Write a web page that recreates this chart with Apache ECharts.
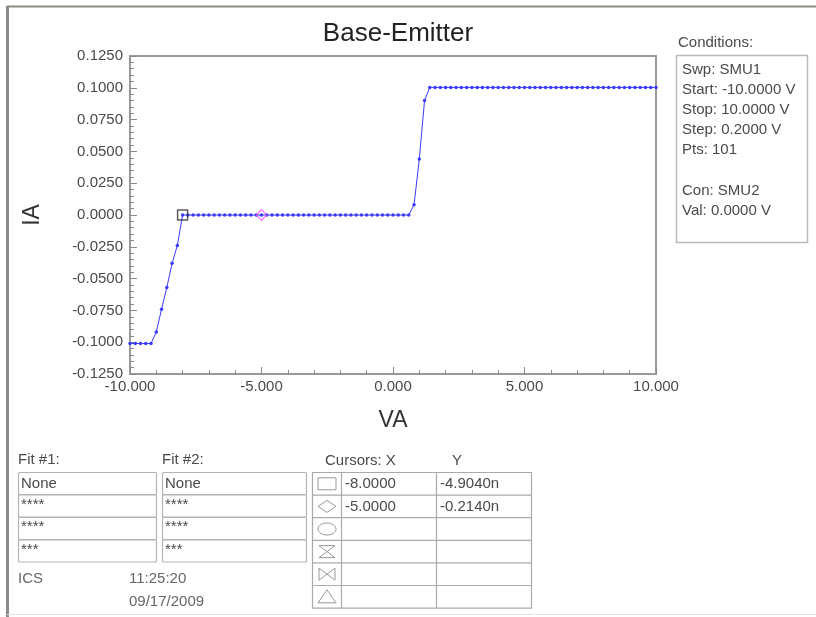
<!DOCTYPE html>
<html><head><meta charset="utf-8">
<script src="https://cdn.jsdelivr.net/npm/echarts@6/dist/echarts.min.js"></script>
<style>html,body{margin:0;padding:0;background:#fff}#c{width:816px;height:617px}</style>
</head><body><div id="c"></div>
<script>
// ---- data ----
const sweepStart = -10, sweepStep = 0.2;   // 101 points, -10 V .. 10 V
const iaLow = [-0.1010,-0.1010,-0.1010,-0.1010,-0.1010];           // -10.0 .. -9.2
const iaRiseLow = [-0.0920,-0.0740,-0.0570,-0.0380,-0.0240];       // -9.0 .. -8.2
const iaMid = [                                                     // -8.0 .. 0.6 (44 pts)
  0,0,0,0,0,0,0,0,0,0, 0,0,0,0,0,0,0,0,0,0,
  0,0,0,0,0,0,0,0,0,0, 0,0,0,0,0,0,0,0,0,0,
  0,0,0,0
];
const iaRiseHigh = [0.0080,0.0440,0.0900];                          // 0.8 .. 1.2
const iaHigh = [                                                    // 1.4 .. 10.0 (44 pts)
  0.1003,0.1003,0.1003,0.1003,0.1003,0.1003,0.1003,0.1003,0.1003,0.1003,
  0.1003,0.1003,0.1003,0.1003,0.1003,0.1003,0.1003,0.1003,0.1003,0.1003,
  0.1003,0.1003,0.1003,0.1003,0.1003,0.1003,0.1003,0.1003,0.1003,0.1003,
  0.1003,0.1003,0.1003,0.1003,0.1003,0.1003,0.1003,0.1003,0.1003,0.1003,
  0.1003,0.1003,0.1003,0.1003
];
const cursorX = [-8.0, -5.0];
const cursorY = [-4.904e-9, -0.214e-9];
const cursorXText = ['-8.0000', '-5.0000'];
const cursorYText = ['-4.9040n', '-0.2140n'];
const conditionLines = ['Swp: SMU1','Start: -10.0000 V','Stop: 10.0000 V','Step: 0.2000 V','Pts: 101','','Con: SMU2','Val: 0.0000 V'];
const fitRows = ['None','****','****','***'];
// ---------------

const iaValues = [].concat(iaLow, iaRiseLow, iaMid, iaRiseHigh, iaHigh);
const pts = iaValues.map((v,i)=>[+(sweepStart + i*sweepStep).toFixed(1), v]);
const F = '"Liberation Sans", Arial, sans-serif';
const TC = '#4a4a4a';
const FS = 15;
const chart = echarts.init(document.getElementById('c'), null, {renderer:'canvas'});

function txt(t, x, y, opt){
  opt = opt || {};
  return {type:'text', style:{text:t, x:x, y:y, verticalAlign:'middle', align:opt.align||'left',
    font:(opt.size||FS)+'px '+F, fill:opt.fill||TC}};
}
const g = [];
// outer frame
g.push({type:'line', shape:{x1:7,y1:6.5,x2:816,y2:6.5}, style:{stroke:'#8c8a7c', lineWidth:2}});
g.push({type:'line', shape:{x1:7.5,y1:6,x2:7.5,y2:617}, style:{stroke:'#8a8a8a', lineWidth:3}});
g.push({type:'line', shape:{x1:7,y1:614.5,x2:816,y2:614.5}, style:{stroke:'#e2e2e2', lineWidth:1}});
// conditions
g.push(txt('Conditions:', 678, 43));
g.push({type:'rect', shape:{x:676.5,y:55.5,width:131,height:187}, style:{fill:'none', stroke:'#bbb', lineWidth:1.5}});
conditionLines.forEach((t,i)=>{ if(t) g.push(txt(t, 682, 69.5+i*20.15)); });
// fit tables
function fitTable(x0, label){
  g.push(txt(label, x0, 460));
  const w = x0===18?138:144;
  for(let r=0;r<4;r++){
    const y = 472 + r*22.5;
    g.push({type:'rect', shape:{x:x0+0.5,y:y+0.5,width:w,height:22, r:1}, style:{fill:'none', stroke:'#b4b4b4', lineWidth:1.2}});
    g.push(txt(fitRows[r], x0+3, r>0 ? y+10 : y+11.5));
  }
}
fitTable(18,'Fit #1:');
fitTable(162,'Fit #2:');
g.push(txt('ICS', 18, 579, {fill:'#666'}));
g.push(txt('11:25:20', 129, 579, {fill:'#666'}));
g.push(txt('09/17/2009', 129, 602, {fill:'#666'}));
// cursors table
g.push(txt('Cursors: X', 325, 461));
g.push(txt('Y', 457, 461, {align:'center'}));
const tx0=312.5, tx1=531.5, rowH=22.6, ty0=472.5;
g.push({type:'rect', shape:{x:tx0,y:ty0,width:tx1-tx0,height:rowH*6}, style:{fill:'none', stroke:'#aaa', lineWidth:1.2}});
for(let r=1;r<6;r++) g.push({type:'line', shape:{x1:tx0,y1:ty0+r*rowH,x2:tx1,y2:ty0+r*rowH}, style:{stroke:'#aaa', lineWidth:1.2}});
g.push({type:'line', shape:{x1:341.5,y1:ty0,x2:341.5,y2:ty0+rowH*6}, style:{stroke:'#aaa', lineWidth:1.2}});
g.push({type:'line', shape:{x1:436.5,y1:ty0,x2:436.5,y2:ty0+rowH*6}, style:{stroke:'#aaa', lineWidth:1.2}});
const ic = {fill:'none', stroke:'#999', lineWidth:1};
const cx = 327, cy = r=>ty0 + r*rowH + rowH/2;
g.push({type:'rect', shape:{x:cx-9,y:cy(0)-6,width:18,height:12}, style:ic});
g.push({type:'polygon', shape:{points:[[cx-9,cy(1)],[cx,cy(1)-6],[cx+9,cy(1)],[cx,cy(1)+6]]}, style:ic});
g.push({type:'ellipse', shape:{cx:cx,cy:cy(2),rx:9,ry:6}, style:ic});
g.push({type:'polygon', shape:{points:[[cx-8,cy(3)-6],[cx+8,cy(3)-6],[cx-8,cy(3)+6],[cx+8,cy(3)+6]]}, style:ic});
g.push({type:'polygon', shape:{points:[[cx-8,cy(4)-6],[cx-8,cy(4)+6],[cx+8,cy(4)-6],[cx+8,cy(4)+6]]}, style:ic});
g.push({type:'polygon', shape:{points:[[cx,cy(5)-7],[cx+9,cy(5)+6],[cx-9,cy(5)+6]]}, style:ic});
for(let i=0;i<cursorXText.length;i++){
  g.push(txt(cursorXText[i], 345, cy(i)));
  g.push(txt(cursorYText[i], 440, cy(i)));
}

const axisCommon = {
  axisLine:{show:true, onZero:false, lineStyle:{color:'#9a9a9a', width:2}},
  axisTick:{show:true, inside:true, length:7, lineStyle:{color:'#8a8a8a', width:1}},
  minorTick:{show:true, splitNumber:5, length:4, lineStyle:{color:'#8a8a8a', width:1}},
  splitLine:{show:false},
  nameTextStyle:{fontFamily:F, fontSize:23, color:'#333'},
};
chart.setOption({
  animation:false,
  backgroundColor:'#fff',
  textStyle:{fontFamily:F},
  title:{text:'Base-Emitter', left:393, textAlign:'center', top:16, textStyle:{fontFamily:F, fontSize:26, fontWeight:'normal', color:'#222'}},
  grid:{left:130, right:160, top:56, bottom:243, show:true, borderColor:'#9a9a9a', borderWidth:2, containLabel:false},
  xAxis:Object.assign({}, axisCommon, {
    type:'value', min:-10, max:10, interval:5, name:'VA', nameLocation:'middle', nameGap:35,
    axisLabel:{formatter:v=>v.toFixed(3), fontFamily:F, fontSize:FS, color:TC, margin:5}
  }),
  yAxis:Object.assign({}, axisCommon, {
    type:'value', min:-0.125, max:0.125, interval:0.025, name:'IA', nameLocation:'middle', nameGap:86,
    axisLabel:{formatter:v=>v.toFixed(4), fontFamily:F, fontSize:FS, color:TC, margin:7}
  }),
  series:[
    {type:'line', data:pts, symbol:'circle', symbolSize:3.5, showSymbol:true,
     lineStyle:{color:'#3b3bff', width:1}, itemStyle:{color:'#3b3bff'}, z:2},
    {type:'scatter', data:[[cursorX[0], cursorY[0]]], symbol:'rect', symbolSize:10,
     itemStyle:{color:'transparent', borderColor:'#333', borderWidth:1.5}, z:3},
    {type:'scatter', data:[[cursorX[1], cursorY[1]]], symbol:'diamond', symbolSize:[10,11],
     itemStyle:{color:'transparent', borderColor:'#ff55ff', borderWidth:1.2}, z:3}
  ],
  graphic:g
});
</script></body></html>
